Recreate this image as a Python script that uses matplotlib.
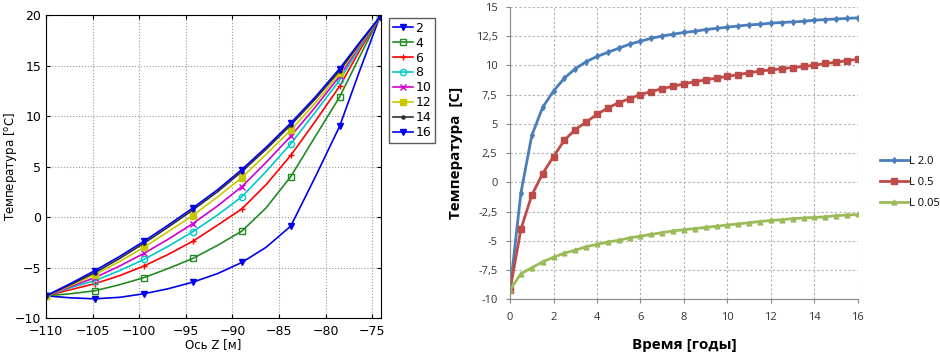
import numpy as np
import matplotlib.pyplot as plt

# left chart: temperature profiles along Z for different years
z = [-110, -107.4, -104.75, -102.1, -99.5, -96.9, -94.25, -91.6,
     -89, -86.4, -83.75, -81.1, -78.5, -76.35, -74.2]
years = ['2', '4', '6', '8', '10', '12', '14', '16']
t2 = [-7.8, -8.0, -8.1, -7.95, -7.6, -7.1, -6.45, -5.6, -4.5, -3.0, -0.9, 4.0, 9.0, 14.5, 19.8]
t4 = [-7.8, -7.6, -7.3, -6.7, -6.0, -5.1, -4.1, -2.8, -1.4, 0.9, 4.0, 8.0, 11.9, 15.9, 19.8]
t6 = [-7.8, -7.2, -6.6, -5.8, -4.85, -3.7, -2.4, -0.8, 0.8, 3.2, 6.1, 9.5, 12.95, 16.5, 19.8]
t8 = [-7.8, -7.0, -6.3, -5.3, -4.2, -2.9, -1.45, 0.2, 2.0, 4.5, 7.25, 10.4, 13.55, 16.8, 19.8]
t10 = [-7.8, -6.9, -6.0, -4.85, -3.6, -2.2, -0.65, 1.1, 3.0, 5.4, 8.0, 10.9, 13.95, 17.0, 19.8]
t12 = [-7.8, -6.8, -5.7, -4.4, -3.0, -1.45, 0.15, 2.0, 3.9, 6.2, 8.6, 11.3, 14.25, 17.1, 19.8]
t14 = [-7.8, -6.7, -5.5, -4.1, -2.6, -1.0, 0.7, 2.5, 4.5, 6.7, 9.1, 11.7, 14.5, 17.2, 19.8]
t16 = [-7.8, -6.6, -5.3, -3.9, -2.4, -0.8, 0.9, 2.7, 4.7, 6.9, 9.3, 11.9, 14.7, 17.3, 19.8]
profiles = [t2, t4, t6, t8, t10, t12, t14, t16]

# right chart: temperature vs time for three L values
time = np.arange(0, 16.5, 0.5)
L20 = [-9.2, -0.9, 4.0, 6.4, 7.8, 8.9, 9.7, 10.3, 10.75, 11.1, 11.45, 11.8, 12.05,
       12.3, 12.5, 12.65, 12.8, 12.9, 13.05, 13.15, 13.25, 13.35, 13.45, 13.5, 13.6,
       13.65, 13.7, 13.75, 13.85, 13.9, 13.95, 14.0, 14.05]
L05 = [-9.2, -4.0, -1.1, 0.75, 2.2, 3.6, 4.5, 5.15, 5.8, 6.35, 6.8, 7.15, 7.5,
       7.75, 8.0, 8.2, 8.4, 8.6, 8.75, 8.9, 9.05, 9.2, 9.35, 9.5, 9.6, 9.7,
       9.8, 9.9, 10.0, 10.15, 10.25, 10.4, 10.5]
L005 = [-9.2, -7.8, -7.3, -6.8, -6.4, -6.05, -5.8, -5.5, -5.3, -5.1, -4.95, -4.75,
        -4.6, -4.45, -4.3, -4.15, -4.05, -3.95, -3.85, -3.75, -3.65, -3.55, -3.45,
        -3.35, -3.25, -3.2, -3.1, -3.05, -3.0, -2.95, -2.85, -2.8, -2.75]
L_labels = ['L 2.0', 'L 0.5', 'L 0.05']

fig = plt.figure(figsize=(9.4, 3.62), dpi=100)

# ---- left panel
ax1 = fig.add_axes([0.049, 0.1215, 0.356, 0.837])
colors = ['#0000ee', '#228b22', '#ff0000', '#00c8c8', '#d000d0', '#c8c800', '#303030', '#0000ee']
markers = ['v', 's', '+', 'o', 'x', 's', '.', 'v']
fills = ['full', 'none', 'full', 'none', 'full', 'full', 'full', 'full']
for t, c, m, f, lab in zip(profiles, colors, markers, fills, years):
    ax1.plot(z, t, color=c, marker=m, fillstyle=f, markersize=4.5, markevery=2,
             lw=1.2, label=lab)
ax1.set_xlim(-110, -74.1)
ax1.set_ylim(-10, 20)
ax1.set_xticks(range(-110, -74, 5))
ax1.set_yticks(range(-10, 21, 5))
ax1.grid(True, ls=':', color='#999999', lw=0.8)
ax1.tick_params(direction='in', top=True, right=True, labelsize=9, length=3)
ax1.tick_params(axis='x', pad=5)
ax1.set_xlabel('Ось Z [м]', fontsize=8.5, labelpad=0)
ax1.set_ylabel(r'Температура [$^\mathrm{o}$C]', fontsize=8.5)
ax1.yaxis.set_label_coords(-0.08, 0.5)
ax1.legend(loc='upper left', bbox_to_anchor=(1.025, 0.99), fontsize=9,
           fancybox=False, edgecolor='#333333', handlelength=1.6,
           handletextpad=0.2, labelspacing=0.15, borderpad=0.3, borderaxespad=0)

# ---- right panel
ax2 = fig.add_axes([0.5426, 0.173, 0.370, 0.8085])
rc = ['#4a7ebb', '#be4b48', '#9bbb59']
rm = ['d', 's', '^']
ms = [3, 4.5, 3.5]
for ys, c, m, s, lab in zip([L20, L05, L005], rc, rm, ms, L_labels):
    ax2.plot(time, ys, color=c, marker=m, markersize=s, lw=2, label=lab)
ax2.set_xlim(0, 16)
ax2.set_ylim(-10, 15)
ax2.set_xticks(range(0, 17, 2))
yt = np.arange(-10, 15.1, 2.5)
ax2.set_yticks(yt)
ax2.set_yticklabels([('%g' % v).replace('.', ',') for v in yt])
ax2.grid(True, ls=(0, (2, 2)), color='#b0b0b0', lw=0.8)
for s in ['top', 'right']:
    ax2.spines[s].set_visible(False)
for s in ['left', 'bottom']:
    ax2.spines[s].set_color('#888888')
ax2.tick_params(labelsize=8, length=3, color='#888888', pad=6, labelcolor='#333333')
for lbl in ax2.get_xticklabels() + ax2.get_yticklabels():
    lbl.set_fontfamily(['Open Sans', 'DejaVu Sans'])
ax2.set_xlabel('Время [годы]', fontsize=11, fontweight='bold',
               family=['Open Sans', 'DejaVu Sans'], labelpad=11)
ax2.set_ylabel('Температура  [С]', fontsize=11, fontweight='bold',
               family=['Open Sans', 'DejaVu Sans'], labelpad=9)
ax2.legend(loc='center left', bbox_to_anchor=(1.065, 0.40), frameon=False,
           prop={'family': ['Open Sans', 'DejaVu Sans'], 'size': 8},
           handlelength=2.5, handletextpad=0.1, labelspacing=0.9,
           borderpad=0, borderaxespad=0)

fig.savefig('out.png', dpi=100)
